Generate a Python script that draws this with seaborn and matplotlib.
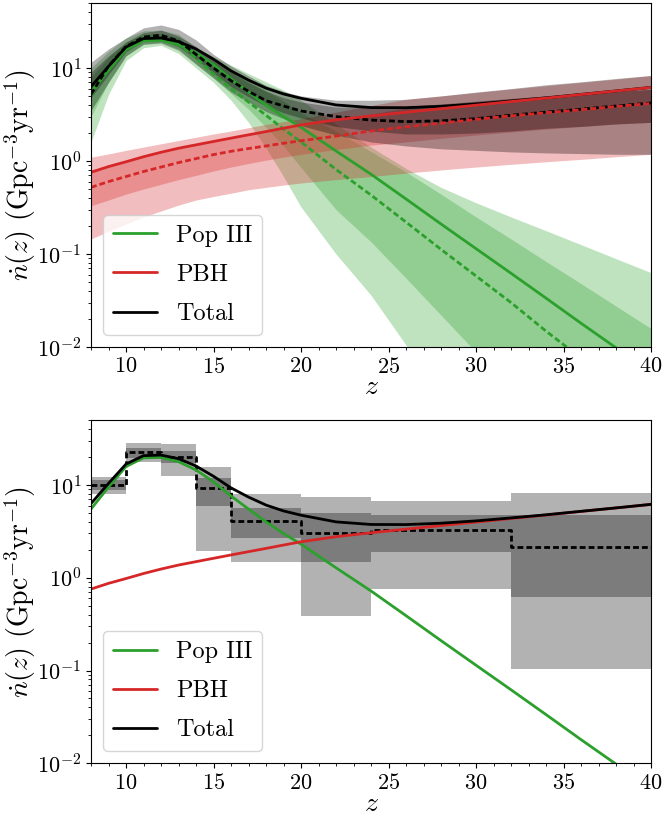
import matplotlib
matplotlib.use("Agg")
import matplotlib.pyplot as plt
from matplotlib.ticker import AutoMinorLocator
import seaborn as sns

# redshift grid the curves were read on
z = [8, 9, 10, 11, 12, 13, 14, 15, 16, 17, 18, 19, 20, 22, 24, 26, 28, 30, 32, 34, 36, 38, 40]

# true merger rate densities (solid lines, both panels)
pop3_true = [5.5, 9.5, 15.8, 19.6, 19.8, 17.8, 14.5, 10.8, 7.6, 5.5, 4.0, 3.0, 2.3, 1.28, 0.72,
             0.39, 0.21, 0.114, 0.062, 0.0335, 0.018, 0.0098, 0.0053]
pbh_true = [0.755, 0.87, 0.98, 1.11, 1.24, 1.37, 1.49, 1.62, 1.76, 1.91, 2.07, 2.25, 2.44, 2.77, 3.05,
            3.34, 3.65, 3.98, 4.35, 4.74, 5.18, 5.65, 6.17]
tot_true = [6.3, 10.4, 16.8, 20.7, 21.0, 19.2, 16.0, 12.4, 9.3, 7.4, 6.07, 5.25, 4.72, 4.0, 3.75,
            3.74, 3.87, 4.1, 4.41, 4.77, 5.2, 5.66, 6.18]

# reconstructed medians (dashed, top panel)
pop3_med = [5.0, 10.5, 17.0, 21.5, 22.0, 18.5, 12.8, 8.6, 6.0, 4.3, 3.1, 2.2, 1.6, 0.81, 0.43,
            0.22, 0.112, 0.058, 0.030, 0.0148, 0.0076, 0.0039, 0.002]
pbh_med = [0.52, 0.60, 0.68, 0.77, 0.86, 0.96, 1.06, 1.17, 1.27, 1.36, 1.45, 1.55, 1.65, 1.85, 2.1,
           2.33, 2.55, 2.8, 3.05, 3.3, 3.55, 3.85, 4.15]
tot_med = [5.2, 10.5, 17.0, 21.5, 22.5, 19.5, 14.0, 10.0, 7.3, 5.6, 4.45, 3.9, 3.45, 3.0, 2.75,
           2.65, 2.7, 2.85, 3.1, 3.35, 3.6, 3.9, 4.2]

# credible bands, top panel
pop3_lo95 = [1.6, 5.2, 12, 16.5, 17.5, 14.3, 10, 7.0, 4.5, 2.6, 1.38, 0.68, 0.32, 0.1, 0.036,
             0.0105, 0.003, 0.001, 3e-4, 1e-4, 3e-5, 1e-5, 3e-6]
pop3_lo68 = [3.0, 7.0, 13.5, 18, 19, 16, 11, 7.8, 5.3, 3.6, 2.3, 1.45, 0.85, 0.3, 0.135,
             0.055, 0.022, 0.0088, 0.0035, 0.0014, 5.6e-4, 2.2e-4, 9e-5]
pop3_hi68 = [8, 13, 19, 23, 23.5, 21, 14.8, 11.7, 9.1, 7.2, 5.75, 4.4, 3.3, 2.1, 1.26,
             0.76, 0.44, 0.25, 0.145, 0.083, 0.048, 0.0275, 0.0158]
pop3_hi95 = [10, 15, 21, 25, 25.5, 23, 16.5, 13.2, 10.7, 8.7, 7.1, 5.75, 4.5, 2.5, 1.41,
             0.83, 0.52, 0.355, 0.25, 0.178, 0.126, 0.089, 0.063]

pbh_lo95 = [0.145, 0.175, 0.21, 0.25, 0.29, 0.335, 0.38, 0.415, 0.45, 0.49, 0.52, 0.55, 0.58, 0.63, 0.68,
            0.74, 0.8, 0.86, 0.92, 0.98, 1.04, 1.11, 1.18]
pbh_lo68 = [0.33, 0.38, 0.44, 0.5, 0.56, 0.63, 0.7, 0.78, 0.86, 0.94, 1.02, 1.1, 1.18, 1.33, 1.48,
            1.6, 1.75, 1.9, 2.05, 2.2, 2.35, 2.5, 2.6]
pbh_hi68 = [0.8, 0.9, 1.0, 1.12, 1.25, 1.38, 1.52, 1.66, 1.8, 1.95, 2.1, 2.25, 2.4, 2.75, 3.2,
            3.7, 4.0, 4.35, 4.7, 5.0, 5.3, 5.6, 5.9]
pbh_hi95 = [1.1, 1.19, 1.3, 1.41, 1.53, 1.66, 1.8, 1.95, 2.1, 2.28, 2.47, 2.65, 2.85, 3.35, 3.95,
            4.6, 5.0, 5.45, 5.95, 6.45, 7.0, 7.6, 8.3]

tot_lo95 = [3.5, 7, 13.5, 18, 18.5, 15.5, 11, 7.8, 5.5, 4.3, 3.4, 2.85, 2.4, 1.9, 1.6,
            1.45, 1.35, 1.3, 1.25, 1.22, 1.2, 1.18, 1.18]
tot_lo68 = [4.8, 8.5, 15, 19.5, 20, 17, 12.5, 8.8, 6.3, 4.9, 3.9, 3.3, 2.9, 2.35, 2.1,
            1.95, 1.95, 2.0, 2.1, 2.25, 2.35, 2.5, 2.6]
tot_hi68 = [9, 13.5, 19, 24, 25.5, 22, 17, 12, 9, 7, 5.6, 4.8, 4.3, 3.8, 3.8,
            3.85, 4.1, 4.4, 4.7, 5.0, 5.3, 5.6, 5.9]
tot_hi95 = [11.5, 16, 21, 27, 29, 26, 20, 14, 10.5, 8.2, 6.5, 5.6, 5.0, 4.5, 4.5,
            4.6, 5.0, 5.5, 6.0, 6.6, 7.1, 7.7, 8.3]

# binned reconstruction, bottom panel
bin_edges = [8, 10, 12, 14, 16, 20, 24, 32, 40]
bin_med = [10.0, 22.5, 20.1, 9.3, 4.08, 3.0, 3.3, 2.13]
bin_lo68 = [8.8, 19.4, 17.4, 5.9, 2.7, 1.47, 1.9, 0.624]
bin_hi68 = [11.3, 25.2, 23.2, 11.8, 5.7, 5.0, 4.8, 4.74]
bin_lo95 = [7.9, 17.8, 12.5, 1.95, 1.47, 0.39, 0.755, 0.104]
bin_hi95 = [12.2, 28.5, 27.4, 15.5, 8.0, 7.5, 6.7, 8.2]

GREEN = "#2ca02c"
RED = "#d62728"
DASH = (0, (2.1, 1.1))

sns.set_style("ticks")
plt.rcParams.update({
    "font.family": "serif",
    "font.serif": ["cmr10"],
    "mathtext.fontset": "cm",
    "axes.unicode_minus": False,
    "axes.formatter.use_mathtext": True,
    "axes.edgecolor": "black",
    "xtick.color": "black",
    "ytick.color": "black",
    "text.color": "black",
    "axes.labelcolor": "black",
    "xtick.labelsize": 16,
    "ytick.labelsize": 16,
})

fig = plt.figure(figsize=(6.63, 8.21), dpi=100)
ax1 = fig.add_axes([0.1373, 0.5774, 0.8446, 0.419])
ax2 = fig.add_axes([0.1373, 0.0703, 0.8446, 0.418])

for ax in (ax1, ax2):
    ax.set_yscale("log")

# top panel: continuous reconstruction with 68/95% bands
for lo95, hi95, lo68, hi68, col in [(pop3_lo95, pop3_hi95, pop3_lo68, pop3_hi68, GREEN),
                                    (pbh_lo95, pbh_hi95, pbh_lo68, pbh_hi68, RED),
                                    (tot_lo95, tot_hi95, tot_lo68, tot_hi68, "black")]:
    ax1.fill_between(z, lo95, hi95, color=col, alpha=0.3, lw=0)
    ax1.fill_between(z, lo68, hi68, color=col, alpha=0.3, lw=0)

sns.lineplot(x=z, y=pop3_true, ax=ax1, color=GREEN, lw=2, label="Pop III")
sns.lineplot(x=z, y=pop3_med, ax=ax1, color=GREEN, lw=2, linestyle=DASH)
sns.lineplot(x=z, y=tot_true, ax=ax1, color="black", lw=2, label="Total")
sns.lineplot(x=z, y=tot_med, ax=ax1, color="black", lw=2, linestyle=DASH)
sns.lineplot(x=z, y=pbh_true, ax=ax1, color=RED, lw=2, label="PBH")
sns.lineplot(x=z, y=pbh_med, ax=ax1, color=RED, lw=2, linestyle=DASH)

# bottom panel: binned reconstruction
ax2.fill_between(bin_edges, bin_lo95 + bin_lo95[-1:], bin_hi95 + bin_hi95[-1:],
                 step="post", color="black", alpha=0.3, lw=0)
ax2.fill_between(bin_edges, bin_lo68 + bin_lo68[-1:], bin_hi68 + bin_hi68[-1:],
                 step="post", color="black", alpha=0.3, lw=0)
sns.lineplot(x=bin_edges, y=bin_med + bin_med[-1:], ax=ax2, color="black", lw=2,
             linestyle=DASH, drawstyle="steps-post")
sns.lineplot(x=z, y=pop3_true, ax=ax2, color=GREEN, lw=2, label="Pop III")
sns.lineplot(x=z, y=pbh_true, ax=ax2, color=RED, lw=2, label="PBH")
sns.lineplot(x=z, y=tot_true, ax=ax2, color="black", lw=2, label="Total")

for ax in (ax1, ax2):
    ax.set_xlim(8, 40)
    ax.set_ylim(1e-2, 50)
    ax.xaxis.set_minor_locator(AutoMinorLocator(5))
    ax.set_xlabel(r"$z$", fontsize=20, labelpad=-2)
    ax.set_ylabel(r"$\dot{n}(z)$ $(\mathrm{Gpc}^{-3}\mathrm{yr}^{-1})$", fontsize=20)
    ax.yaxis.set_label_coords(-0.094, 0.5)
    h, l = ax.get_legend_handles_labels()
    order = [l.index("Pop III"), l.index("PBH"), l.index("Total")]
    ax.legend([h[i] for i in order], [l[i] for i in order], loc="lower left",
              fontsize=17.5, labelspacing=0.7, handlelength=1.8)

fig.savefig("out.png", dpi=100)
